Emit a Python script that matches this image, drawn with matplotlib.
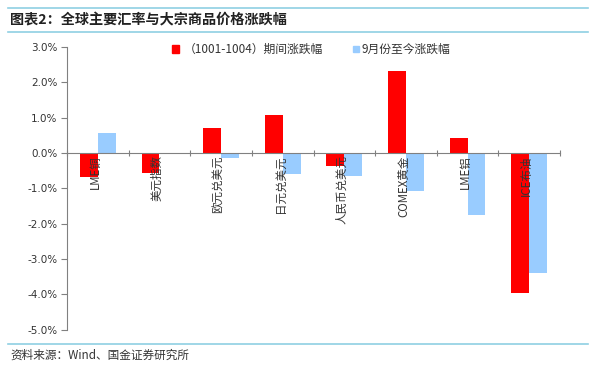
import matplotlib
matplotlib.use("Agg")
import matplotlib.pyplot as plt
import numpy as np
from matplotlib.lines import Line2D
from matplotlib.patches import Rectangle

plt.rcParams['font.family'] = ['Noto Sans CJK SC', 'DejaVu Sans']

categories = ["LME铜", "美元指数", "欧元兑美元", "日元兑美元", "人民币兑美元", "COMEX黄金", "LME铝", "ICE布油"]
period_change = [-0.68, -0.57, 0.72, 1.07, -0.37, 2.32, 0.43, -3.96]
since_sep_change = [0.56, 0.0, -0.13, -0.59, -0.65, -1.09, -1.76, -3.41]
series_names = ["（1001-1004）期间涨跌幅", "9月份至今涨跌幅"]
yticks = [3, 2, 1, 0, -1, -2, -3, -4, -5]
title = "图表2：全球主要汇率与大宗商品价格涨跌幅"
source = "资料来源：Wind、国金证券研究所"

red = "#FF0000"
blue = "#99CCFF"
rule = "#8FCFE3"
txt = "#333333"

fig = plt.figure(figsize=(6, 3.72), dpi=100)
ax = fig.add_axes([67/600, 1-329.5/372, 493/600, 282.5/372])

x = np.arange(len(categories))
w = 0.29
ax.bar(x - w/2, period_change, width=w, color=red, zorder=2)
ax.bar(x + w/2, since_sep_change, width=w, color=blue, zorder=2)

ax.set_xlim(-0.5, len(categories) - 0.5)
ax.set_ylim(-5, 3)
ax.set_yticks(yticks)
ax.set_yticklabels([f"{v:.1f}%" for v in yticks], fontsize=7.5, color=txt, family=['DejaVu Sans'])
ax.set_xticks(np.arange(len(categories) + 1) - 0.5)
ax.set_xticklabels([])
ax.tick_params(axis='x', direction='inout', length=5, width=0.8, color='#808080')
ax.tick_params(axis='y', direction='out', length=4, width=0.8, color='#808080', pad=3)

for s in ['top', 'right']:
    ax.spines[s].set_visible(False)
ax.spines['left'].set_color('#808080')
ax.spines['bottom'].set_position(('data', 0))
ax.spines['bottom'].set_color('#808080')
ax.spines['bottom'].set_zorder(3)

for xi, name in zip(x, categories):
    ax.text(xi - 0.04, -0.07, name, rotation=90, ha='center', va='top',
            fontsize=8.3, color=txt, zorder=4)

# legend
fig.patches.append(Rectangle((172/600, 1-53/372), 7/600, 8/372, transform=fig.transFigure, color=red))
fig.text(184/600, 1-49/372, series_names[0], fontsize=8.5, color=txt, va='center')
fig.patches.append(Rectangle((353/600, 1-52/372), 6/600, 6/372, transform=fig.transFigure, color=blue))
fig.text(361/600, 1-49/372, series_names[1], fontsize=8.5, color=txt, va='center')

# rules and title
for yy in [8, 32, 344]:
    fig.add_artist(Line2D([8/600, 588/600], [1-yy/372, 1-yy/372], transform=fig.transFigure,
                          color=rule, lw=1.2))
fig.text(10/600, 1-20/372, title, fontsize=10.2, fontweight='bold', style='italic',
         color='#222222', va='center')
fig.text(10/600, 1-355/372, source, fontsize=8.4, color=txt, va='center')

fig.savefig("out.png", dpi=100)
